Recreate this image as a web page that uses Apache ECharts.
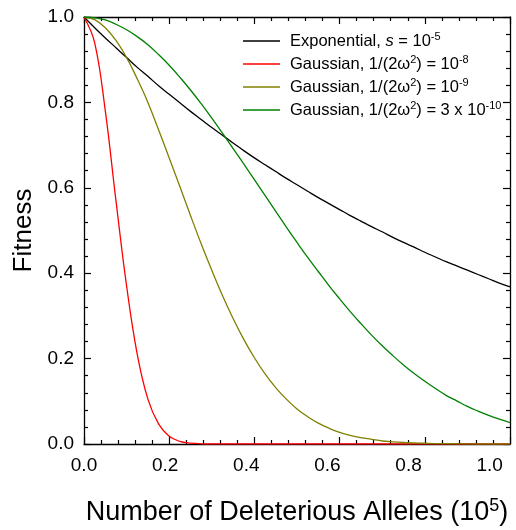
<!DOCTYPE html>
<html><head><meta charset="utf-8">
<script src="https://cdn.jsdelivr.net/npm/echarts@6/dist/echarts.min.js"></script>
<style>html,body{margin:0;padding:0;background:#fff}#c{width:516px;height:530px}</style>
</head><body><div id="c"></div>
<script>
// x positions (in units of 10^5 alleles, data scale)
const xValues = [0,0.025,0.05,0.075,0.1,0.125,0.15,0.175,0.2,0.225,0.25,0.275,0.3,0.325,0.35,0.375,0.4,0.425,0.45,0.475,0.5,0.525,0.55,0.575,0.6,0.625,0.65,0.675,0.7,0.725,0.75,0.775,0.8,0.825,0.85,0.875,0.9,0.925,0.95,0.975,1.0];
const exponential = [1,0.975,0.951,0.928,0.905,0.882,0.861,0.839,0.819,0.799,0.779,0.760,0.741,0.723,0.705,0.687,0.670,0.654,0.638,0.622,0.607,0.592,0.577,0.563,0.549,0.535,0.522,0.509,0.497,0.484,0.472,0.461,0.449,0.438,0.427,0.417,0.407,0.397,0.387,0.377,0.368];
const gauss1e8 = [1,0.94,0.78,0.57,0.37,0.21,0.105,0.047,0.018,0.006,0.002,0.0005,0,0,0,0,0,0,0,0,0,0,0,0,0,0,0,0,0,0,0,0,0,0,0,0,0,0,0,0,0];
const gauss1e9 = [1,0.994,0.975,0.945,0.905,0.855,0.80,0.736,0.670,0.603,0.535,0.469,0.407,0.348,0.294,0.245,0.202,0.164,0.132,0.105,0.082,0.064,0.049,0.037,0.027,0.020,0.015,0.011,0.007,0.005,0.0035,0.0025,0.0017,0.001,0.0007,0.0005,0.0003,0,0,0,0];
const gauss3e10 = [1,0.998,0.993,0.983,0.970,0.954,0.935,0.912,0.887,0.859,0.829,0.797,0.763,0.728,0.692,0.656,0.619,0.582,0.545,0.508,0.472,0.437,0.404,0.371,0.340,0.310,0.282,0.255,0.230,0.207,0.185,0.165,0.147,0.130,0.114,0.101,0.088,0.077,0.067,0.058,0.050];
const xTickLabels = ['0.0','0.2','0.4','0.6','0.8','1.0'];
const yTickLabels = ['0.0','0.2','0.4','0.6','0.8','1.0'];
const seriesNames = ['Exponential','Gaussian 1e-8','Gaussian 1e-9','Gaussian 3e-10'];
const legendTexts = {
  'Exponential': 'Exponential, {i|s} = 10{sup|-5}',
  'Gaussian 1e-8': 'Gaussian, 1/(2\u03c9{sup|2}) = 10{sup|-8}',
  'Gaussian 1e-9': 'Gaussian, 1/(2\u03c9{sup|2}) = 10{sup|-9}',
  'Gaussian 3e-10': 'Gaussian, 1/(2\u03c9{sup|2}) = 3 x 10{sup|-10}'
};
const colors = ['#000000','#ff0000','#808000','#008000'];
const seriesValues = [exponential, gauss1e8, gauss1e9, gauss3e10];

const FONT = 'Arial, "Liberation Sans", sans-serif';
function tickFmt(labels){
  return function(v){
    const i = Math.round(v/0.2);
    return Math.abs(v - i*0.2) < 1e-6 && labels[i] !== undefined ? labels[i] : '';
  };
}
function frameAxis(extra){
  return Object.assign({
    type:'value',
    axisLine:{show:true, onZero:false, lineStyle:{color:'#000', width:1.3}},
    axisTick:{show:true, inside:true, length:7, lineStyle:{color:'#000', width:1.2}},
    minorTick:{show:true, splitNumber:5, length:4, lineStyle:{color:'#000', width:1.2}},
    splitLine:{show:false}, minorSplitLine:{show:false}
  }, extra);
}

const chart = echarts.init(document.getElementById('c'));
chart.setOption({
  animation:false,
  backgroundColor:'#fff',
  grid:[
    {left:84, right:6, top:17, bottom:86, outerBoundsMode:'none', containLabel:false},
    {left:84, right:6, top:17, bottom:86, outerBoundsMode:'none', containLabel:false}
  ],
  legend:{
    show:true,
    data:seriesNames,
    orient:'vertical', left:238, top:26,
    icon:'rect',
    itemWidth:37, itemHeight:1.3, itemGap:3,
    formatter: function(n){ return legendTexts[n]; },
    textStyle:{fontSize:16.5, fontFamily:FONT, color:'#000', lineHeight:20, padding:[0,0,0,5],
      rich:{
        i:{fontSize:16.5, fontFamily:FONT, fontStyle:'italic', color:'#000', lineHeight:20},
        sup:{fontSize:11, fontFamily:FONT, color:'#000', verticalAlign:'top', lineHeight:13}
      }}
  },
  xAxis:[
    frameAxis({gridIndex:0, min:0, max:1.0, interval:0.2, position:'bottom', axisLabel:{show:false}}),
    frameAxis({gridIndex:0, min:0, max:1.0, interval:0.2, position:'top', axisLabel:{show:false}}),
    {gridIndex:1, type:'value', min:0, max:1.05, interval:0.2, position:'bottom',
     axisLine:{show:false, onZero:false}, axisTick:{show:false}, splitLine:{show:false},
     axisLabel:{show:true, formatter:tickFmt(xTickLabels), fontSize:19, fontFamily:FONT, color:'#000', margin:12, showMaxLabel:false},
     name:'Number of Deleterious Alleles (10{sup|5})', nameLocation:'middle', nameGap:53,
     nameTextStyle:{fontSize:27, fontFamily:FONT, color:'#000', lineHeight:32,
       rich:{sup:{fontSize:18, fontFamily:FONT, color:'#000', verticalAlign:'top', lineHeight:17}}}
    }
  ],
  yAxis:[
    frameAxis({gridIndex:0, min:0, max:1, interval:0.2, position:'left',
      axisLabel:{show:true, formatter:tickFmt(yTickLabels), fontSize:19, fontFamily:FONT, color:'#000', margin:10},
      name:'Fitness', nameLocation:'middle', nameGap:44,
      nameTextStyle:{fontSize:26, fontFamily:FONT, color:'#000'}}),
    frameAxis({gridIndex:0, min:0, max:1, interval:0.2, position:'right', axisLabel:{show:false}}),
    {gridIndex:1, type:'value', min:0, max:1, show:false}
  ],
  series: seriesValues.map(function(vals, k){ return {
    name: seriesNames[k], type:'line', xAxisIndex:0, yAxisIndex:0,
    data: xValues.map(function(x,i){ return [x, vals[i]]; }),
    symbol:'none', showSymbol:false, smooth:0.4,
    lineStyle:{color:colors[k], width:1.3}, itemStyle:{color:colors[k]},
    z:5
  };})
});
</script></body></html>
